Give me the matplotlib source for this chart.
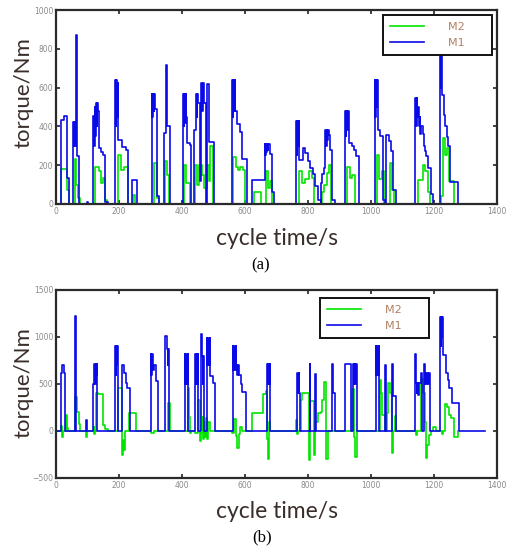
import matplotlib
matplotlib.use('Agg')
import matplotlib.pyplot as plt

# ---- data (step breakpoints: time s, torque Nm) ----
# (a) top panel
a_m1_t = [0, 15, 25, 34, 41, 54, 56, 58, 60, 63, 68, 73, 97, 101,
          119, 121, 123, 125, 127, 129, 131, 133, 135, 142, 150, 156, 166,
          188, 190, 192, 194, 196, 198, 209, 221, 230, 241, 256,
          304, 306, 308, 310, 312, 314, 322, 328, 343, 349, 354, 362,
          404, 406, 408, 410, 412, 414, 416, 425, 430,
          439, 445, 447, 449, 451, 456, 461, 465, 467, 469, 476, 481, 486, 503,
          559, 561, 563, 565, 567, 569, 575, 583, 590, 607,
          622, 662, 664, 666, 668, 670, 672, 674, 681, 686, 691,
          762, 764, 766, 768, 770, 773, 784, 789, 800, 808, 816, 823, 832, 840,
          842, 846, 850, 855, 857, 859, 861, 863, 866, 870, 876, 886,
          918, 920, 922, 924, 926, 929, 939, 945, 952, 961,
          1012, 1014, 1016, 1018, 1020, 1022, 1030, 1038, 1044,
          1049, 1056, 1063, 1070, 1078,
          1141, 1143, 1145, 1147, 1150, 1152, 1155, 1157, 1160, 1165, 1168,
          1171, 1176, 1182, 1189, 1197,
          1219, 1221, 1223, 1226, 1231, 1236, 1240, 1245, 1250, 1277, 1290]
a_m1_v = [0, 433, 453, 132, 0, 424, 300, 424, 300, 870, 247, 0, 12, 0,
          453, 300, 500, 350, 520, 400, 520, 480, 288, 270, 253, 12, 0,
          639, 400, 639, 450, 626, 330, 295, 278, 0, 124, 0,
          567, 450, 567, 480, 567, 490, 40, 0, 365, 716, 402, 0,
          567, 400, 567, 420, 567, 450, 314, 303, 0,
          383, 567, 450, 567, 520, 120, 624, 480, 624, 520, 0, 620, 320, 0,
          641, 450, 641, 480, 641, 480, 412, 370, 230, 0,
          125, 311, 250, 311, 270, 311, 280, 311, 260, 60, 0,
          426, 250, 426, 300, 426, 228, 289, 265, 221, 187, 153, 93, 20, 0,
          109, 153, 187, 383, 300, 383, 330, 383, 358, 276, 20, 0,
          478, 350, 478, 380, 478, 315, 298, 276, 247, 0,
          641, 450, 641, 500, 641, 383, 350, 20, 0,
          354, 324, 272, 74, 0,
          546, 400, 546, 450, 498, 400, 446, 360, 403, 360, 300,
          274, 248, 187, 50, 0,
          850, 600, 850, 560, 458, 400, 347, 300, 115, 0, 0]

a_m2_t = [0, 17, 28, 34, 41, 60, 65, 70, 76,
          125, 135, 142, 150, 156, 162, 196, 205, 215, 225, 230, 246, 252,
          312, 320, 326, 347, 352, 358, 408, 414, 420, 426,
          440, 448, 455, 462, 470, 478, 485, 490, 497,
          562, 570, 578, 585, 595, 600, 630, 645, 650, 668, 674, 680, 686,
          772, 782, 792, 802, 812, 820, 845, 852, 860, 868, 874,
          925, 932, 940, 948, 1018, 1025, 1034, 1040, 1060, 1066, 1072,
          1150, 1160, 1165, 1172, 1180, 1188,
          1222, 1228, 1234, 1240, 1248, 1262]
a_m2_v = [0, 180, 180, 70, 0, 230, 100, 30, 0,
          190, 170, 110, 135, 20, 0, 250, 175, 190, 190, 0, 45, 0,
          210, 30, 0, 220, 150, 0, 200, 110, 110, 0,
          200, 100, 200, 150, 80, 200, 120, 300, 0,
          240, 190, 175, 190, 175, 0, 63, 63, 0, 170, 80, 120, 0,
          170, 110, 127, 170, 135, 0, 60, 100, 160, 200, 0,
          190, 135, 150, 0, 254, 127, 170, 0, 211, 70, 0,
          125, 125, 200, 170, 60, 0,
          40, 340, 250, 290, 119, 0]

# (b) bottom panel
b_m1_t = [0, 15, 19, 24, 30, 59, 63, 94, 99,
          118, 122, 124, 126, 128, 130, 131,
          187, 189, 191, 193, 195, 197, 211, 216, 222, 227, 235,
          301, 303, 305, 307, 310, 317, 324, 347, 351, 355, 357, 360,
          409, 411, 413, 415, 418, 420, 441, 443, 445, 447, 450, 452,
          460, 464, 466, 468, 471, 479, 481, 483, 485, 488, 490, 497, 505,
          561, 563, 565, 567, 570, 572, 576, 578, 582, 586, 592, 604,
          670, 672, 674, 676, 679, 681,
          766, 768, 770, 772, 774, 805, 807, 823, 826, 876, 879, 886,
          919, 935, 943, 945, 947, 949, 952, 955, 957,
          1015, 1017, 1019, 1021, 1024, 1026, 1044, 1047, 1067, 1069, 1078,
          1141, 1143, 1145, 1147, 1150, 1153, 1158, 1161,
          1169, 1171, 1173, 1175, 1177, 1180, 1183, 1187,
          1219, 1221, 1223, 1225, 1227, 1229, 1237, 1244, 1249, 1257, 1279, 1362]
b_m1_v = [0, 620, 705, 620, 0, 1223, 0, 117, 0,
          500, 710, 500, 710, 600, 710, 0,
          905, 600, 905, 700, 905, 0, 700, 620, 510, 460, 0,
          820, 600, 820, 650, 700, 530, 0, 1010, 870, 700, 870, 0,
          820, 500, 820, 500, 820, 0, 820, 500, 820, 500, 820, 0,
          1032, 800, 500, 800, 0, 990, 700, 990, 700, 990, 580, 510, 0,
          905, 650, 905, 650, 905, 700, 600, 700, 600, 505, 420, 0,
          710, 500, 710, 500, 710, 0,
          620, 400, 620, 400, 0, 710, 0, 610, 0, 710, 407, 0,
          710, 0, 710, 500, 710, 500, 710, 400, 0,
          905, 600, 905, 600, 905, 0, 705, 0, 710, 370, 0,
          820, 510, 400, 510, 380, 510, 620, 0,
          710, 500, 620, 500, 620, 500, 620, 0,
          1216, 900, 1216, 1000, 1216, 808, 617, 546, 457, 301, 0, 0]

b_m2_t = [0, 17, 19, 22, 31, 35, 38, 61, 67, 72, 76, 94, 97,
          120, 122, 125, 128, 133, 148, 150, 155, 165,
          197, 209, 211, 213, 215, 218, 220, 233, 253, 301, 310, 357, 361,
          420, 422, 425, 428, 441, 452, 456, 459, 466, 468, 471, 474, 477,
          480, 483, 488,
          560, 565, 570, 575, 580, 585, 590, 622, 657, 667, 670, 673, 677, 681,
          762, 765, 768, 778, 782, 802, 806, 818, 822, 832, 840, 845, 850,
          858, 862, 941, 946, 950, 955, 1028, 1031, 1036, 1044,
          1050, 1054, 1060, 1066, 1070, 1076, 1080,
          1142, 1146, 1160, 1165, 1170, 1174, 1178, 1183, 1190, 1198, 1205,
          1224, 1228, 1236, 1242, 1248, 1255, 1262, 1277]
b_m2_v = [0, 50, -60, 0, 170, 30, 0, 365, 200, 70, 0, -60, 0,
          40, -30, 0, 407, 395, 200, 60, 25, 0,
          453, -30, -255, -100, -200, -50, 0, 187, 0, -20, 0, 294, 0,
          453, 150, -20, 0, -20, 330, -110, -20, 150, -90, 100, -60, 140,
          -80, 100, 0,
          -20, 130, -50, -180, -30, 40, 0, 195, 397, 430, -90, -300, 100, 0,
          117, -30, 0, 330, 400, -310, 320, -260, 100, 190, 200, 330, 525,
          -300, 0, 443, -60, -275, 0, 543, 400, 170, 0,
          190, 507, 400, -238, 0, 160, 0,
          -40, 0, 550, 400, 100, -290, -150, -40, 0, 45, 0,
          -30, 0, 290, 260, 170, 140, -60, 0]

x_ticks = [0, 200, 400, 600, 800, 1000, 1200, 1400]
a_yticks = [0, 200, 400, 600, 800, 1000]
b_yticks = [-500, 0, 500, 1000, 1500]

GREEN = '#00e400'
BLUE = '#0a0ae6'
LABEL_COLOR = '#3a2e2a'


def style_axes(ax, yticks):
    ax.set_xlim(0, 1400)
    ax.set_ylim(yticks[0], yticks[-1])
    ax.set_xticks(x_ticks)
    ax.set_yticks(yticks)
    ax.tick_params(direction='in', top=True, right=True, length=3, width=1.2,
                   labelsize=5.5, labelcolor='#8a8a8a', pad=2, color='#222222')
    for s in ax.spines.values():
        s.set_linewidth(1.6)
        s.set_color('#2a2a2a')


def draw_panel(ax, m1_t, m1_v, m2_t, m2_v, yticks, legend_anchor):
    # trailing spaces keep the empty room right of the labels, as in the scan
    ax.plot(m2_t, m2_v, drawstyle='steps-post', color=GREEN, lw=1.2, label='M2      ')
    ax.plot(m1_t, m1_v, drawstyle='steps-post', color=BLUE, lw=1.2, label='M1      ')
    style_axes(ax, yticks)
    leg = ax.legend(loc='upper right', bbox_to_anchor=legend_anchor, fontsize=8,
                    handlelength=3.1, handletextpad=2.1, borderpad=0.6,
                    borderaxespad=0, labelspacing=0.55, fancybox=False,
                    framealpha=1, edgecolor='#111111', labelcolor='#b08060')
    leg.get_frame().set_linewidth(1.4)


fig = plt.figure(figsize=(5.15, 5.51), dpi=100)
ax_a = fig.add_axes([0.1087, 0.6298, 0.8563, 0.352])
ax_b = fig.add_axes([0.1087, 0.1325, 0.8563, 0.3412])

draw_panel(ax_a, a_m1_t, a_m1_v, a_m2_t, a_m2_v, a_yticks, (0.989, 0.974))
draw_panel(ax_b, b_m1_t, b_m1_v, b_m2_t, b_m2_v, b_yticks, (0.846, 0.957))

# axis titles and captions
lab = dict(family='Lato', color=LABEL_COLOR)
fig.text(0.538, 1 - 239 / 551, 'cycle time/s', fontsize=16.5, ha='center', va='center', **lab)
fig.text(0.538, 1 - 512 / 551, 'cycle time/s', fontsize=16.5, ha='center', va='center', **lab)
fig.text(0.046, 1 - 93 / 551, 'torque/Nm', fontsize=16, rotation=90, ha='center', va='center', **lab)
fig.text(0.046, 1 - 383 / 551, 'torque/Nm', fontsize=16, rotation=90, ha='center', va='center', **lab)
fig.text(261 / 515, 1 - 265 / 551, '(a)', fontsize=12, family='Liberation Serif',
         ha='center', va='center', color='black')
fig.text(262 / 515, 1 - 537 / 551, '(b)', fontsize=12, family='Liberation Serif',
         ha='center', va='center', color='black')

fig.savefig('out.png', dpi=100)
